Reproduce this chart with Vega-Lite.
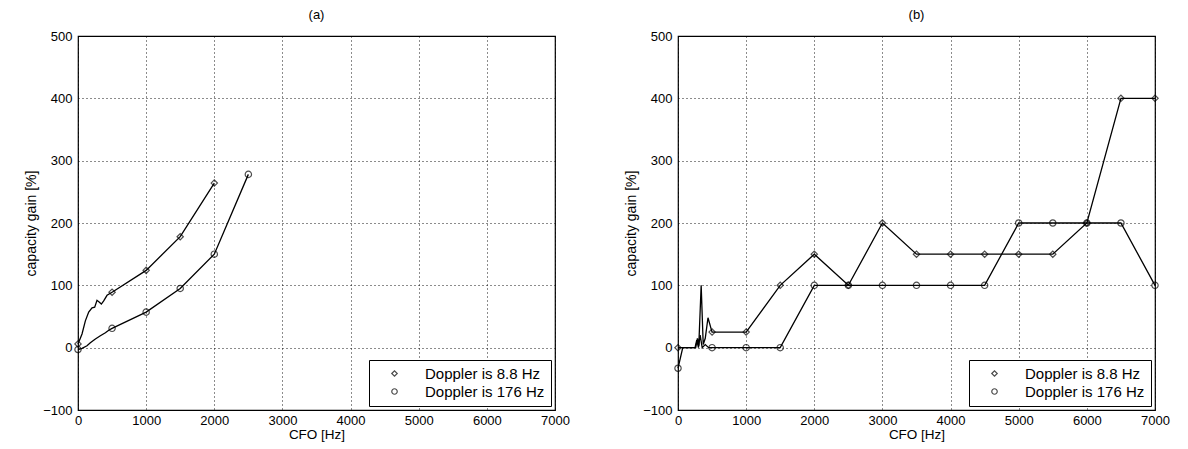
{
  "$schema": "https://vega.github.io/schema/vega-lite/v6.json",
  "background": "white",
  "padding": {"left": 24, "top": 8, "right": 5, "bottom": 5},
  "spacing": 53,
  "config": {
    "font": "Liberation Sans",
    "view": {"stroke": "black", "strokeWidth": 1.2},
    "title": {"fontSize": 13, "fontWeight": "normal", "color": "black", "offset": 8},
    "axis": {
      "labelFont": "Liberation Sans",
      "labelFontSize": 13,
      "labelColor": "black",
      "labelFlush": false,
      "titleFont": "Liberation Sans",
      "titleFontSize": 14,
      "titleFontWeight": "normal",
      "titleColor": "black",
      "grid": true,
      "gridColor": "black",
      "gridDash": [1, 3],
      "gridWidth": 1,
      "gridOpacity": 0.9,
      "domain": false,
      "ticks": false,
      "labelPadding": 6
    },
    "axisX": {"titlePadding": 0, "labelPadding": 4, "format": "d", "titleFontSize": 13.5},
    "axisY": {"titlePadding": 4},
    "legend": {
      "orient": "bottom-right",
      "offset": 4,
      "fillColor": "white",
      "strokeColor": "black",
      "padding": 6,
      "labelFontSize": 15,
      "labelColor": "black",
      "labelFont": "Liberation Sans",
      "labelLimit": 400,
      "symbolSize": 30,
      "symbolStrokeColor": "black",
      "symbolFillColor": "transparent",
      "symbolStrokeWidth": 1.2,
      "symbolOffset": 12,
      "labelOffset": 23,
      "rowPadding": 2,
      "title": null
    }
  },
  "datasets": {
    "a": [
      {"cfo": 0, "gain": 6, "series": "Doppler is 8.8 Hz", "marker": true},
      {"cfo": 59, "gain": 22, "series": "Doppler is 8.8 Hz", "marker": false},
      {"cfo": 108, "gain": 43, "series": "Doppler is 8.8 Hz", "marker": false},
      {"cfo": 157, "gain": 57, "series": "Doppler is 8.8 Hz", "marker": false},
      {"cfo": 206, "gain": 64, "series": "Doppler is 8.8 Hz", "marker": false},
      {"cfo": 245, "gain": 65, "series": "Doppler is 8.8 Hz", "marker": false},
      {"cfo": 279, "gain": 76, "series": "Doppler is 8.8 Hz", "marker": false},
      {"cfo": 314, "gain": 73, "series": "Doppler is 8.8 Hz", "marker": false},
      {"cfo": 343, "gain": 70, "series": "Doppler is 8.8 Hz", "marker": false},
      {"cfo": 377, "gain": 75, "series": "Doppler is 8.8 Hz", "marker": false},
      {"cfo": 426, "gain": 84, "series": "Doppler is 8.8 Hz", "marker": false},
      {"cfo": 500, "gain": 89, "series": "Doppler is 8.8 Hz", "marker": true},
      {"cfo": 1000, "gain": 124, "series": "Doppler is 8.8 Hz", "marker": true},
      {"cfo": 1500, "gain": 178, "series": "Doppler is 8.8 Hz", "marker": true},
      {"cfo": 2000, "gain": 264, "series": "Doppler is 8.8 Hz", "marker": true},
      {"cfo": 0, "gain": -3, "series": "Doppler is 176 Hz", "marker": true},
      {"cfo": 59, "gain": -1, "series": "Doppler is 176 Hz", "marker": false},
      {"cfo": 132, "gain": 3, "series": "Doppler is 176 Hz", "marker": false},
      {"cfo": 181, "gain": 8, "series": "Doppler is 176 Hz", "marker": false},
      {"cfo": 255, "gain": 14, "series": "Doppler is 176 Hz", "marker": false},
      {"cfo": 328, "gain": 19, "series": "Doppler is 176 Hz", "marker": false},
      {"cfo": 402, "gain": 24, "series": "Doppler is 176 Hz", "marker": false},
      {"cfo": 451, "gain": 28, "series": "Doppler is 176 Hz", "marker": false},
      {"cfo": 500, "gain": 31, "series": "Doppler is 176 Hz", "marker": true},
      {"cfo": 1000, "gain": 57, "series": "Doppler is 176 Hz", "marker": true},
      {"cfo": 1500, "gain": 95, "series": "Doppler is 176 Hz", "marker": true},
      {"cfo": 2000, "gain": 150, "series": "Doppler is 176 Hz", "marker": true},
      {"cfo": 2500, "gain": 278, "series": "Doppler is 176 Hz", "marker": true}
    ],
    "b": [
      {"cfo": 0, "gain": 0, "series": "Doppler is 8.8 Hz", "marker": true},
      {"cfo": 100, "gain": 0, "series": "Doppler is 8.8 Hz", "marker": false},
      {"cfo": 200, "gain": 0, "series": "Doppler is 8.8 Hz", "marker": false},
      {"cfo": 260, "gain": 0, "series": "Doppler is 8.8 Hz", "marker": false},
      {"cfo": 285, "gain": 15, "series": "Doppler is 8.8 Hz", "marker": false},
      {"cfo": 305, "gain": 3, "series": "Doppler is 8.8 Hz", "marker": false},
      {"cfo": 340, "gain": 100, "series": "Doppler is 8.8 Hz", "marker": false},
      {"cfo": 370, "gain": 5, "series": "Doppler is 8.8 Hz", "marker": false},
      {"cfo": 400, "gain": 15, "series": "Doppler is 8.8 Hz", "marker": false},
      {"cfo": 440, "gain": 48, "series": "Doppler is 8.8 Hz", "marker": false},
      {"cfo": 500, "gain": 25, "series": "Doppler is 8.8 Hz", "marker": true},
      {"cfo": 1000, "gain": 25, "series": "Doppler is 8.8 Hz", "marker": true},
      {"cfo": 1500, "gain": 100, "series": "Doppler is 8.8 Hz", "marker": true},
      {"cfo": 2000, "gain": 150, "series": "Doppler is 8.8 Hz", "marker": true},
      {"cfo": 2500, "gain": 100, "series": "Doppler is 8.8 Hz", "marker": true},
      {"cfo": 3000, "gain": 200, "series": "Doppler is 8.8 Hz", "marker": true},
      {"cfo": 3500, "gain": 150, "series": "Doppler is 8.8 Hz", "marker": true},
      {"cfo": 4000, "gain": 150, "series": "Doppler is 8.8 Hz", "marker": true},
      {"cfo": 4500, "gain": 150, "series": "Doppler is 8.8 Hz", "marker": true},
      {"cfo": 5000, "gain": 150, "series": "Doppler is 8.8 Hz", "marker": true},
      {"cfo": 5500, "gain": 150, "series": "Doppler is 8.8 Hz", "marker": true},
      {"cfo": 6000, "gain": 200, "series": "Doppler is 8.8 Hz", "marker": true},
      {"cfo": 6500, "gain": 400, "series": "Doppler is 8.8 Hz", "marker": true},
      {"cfo": 7000, "gain": 400, "series": "Doppler is 8.8 Hz", "marker": true},
      {"cfo": 0, "gain": -33, "series": "Doppler is 176 Hz", "marker": true},
      {"cfo": 70, "gain": 0, "series": "Doppler is 176 Hz", "marker": false},
      {"cfo": 250, "gain": 0, "series": "Doppler is 176 Hz", "marker": false},
      {"cfo": 275, "gain": 12, "series": "Doppler is 176 Hz", "marker": false},
      {"cfo": 300, "gain": 0, "series": "Doppler is 176 Hz", "marker": false},
      {"cfo": 325, "gain": 20, "series": "Doppler is 176 Hz", "marker": false},
      {"cfo": 355, "gain": 0, "series": "Doppler is 176 Hz", "marker": false},
      {"cfo": 400, "gain": 5, "series": "Doppler is 176 Hz", "marker": false},
      {"cfo": 450, "gain": 0, "series": "Doppler is 176 Hz", "marker": false},
      {"cfo": 500, "gain": 0, "series": "Doppler is 176 Hz", "marker": true},
      {"cfo": 1000, "gain": 0, "series": "Doppler is 176 Hz", "marker": true},
      {"cfo": 1500, "gain": 0, "series": "Doppler is 176 Hz", "marker": true},
      {"cfo": 2000, "gain": 100, "series": "Doppler is 176 Hz", "marker": true},
      {"cfo": 2500, "gain": 100, "series": "Doppler is 176 Hz", "marker": true},
      {"cfo": 3000, "gain": 100, "series": "Doppler is 176 Hz", "marker": true},
      {"cfo": 3500, "gain": 100, "series": "Doppler is 176 Hz", "marker": true},
      {"cfo": 4000, "gain": 100, "series": "Doppler is 176 Hz", "marker": true},
      {"cfo": 4500, "gain": 100, "series": "Doppler is 176 Hz", "marker": true},
      {"cfo": 5000, "gain": 200, "series": "Doppler is 176 Hz", "marker": true},
      {"cfo": 5500, "gain": 200, "series": "Doppler is 176 Hz", "marker": true},
      {"cfo": 6000, "gain": 200, "series": "Doppler is 176 Hz", "marker": true},
      {"cfo": 6500, "gain": 200, "series": "Doppler is 176 Hz", "marker": true},
      {"cfo": 7000, "gain": 100, "series": "Doppler is 176 Hz", "marker": true}
    ]
  },
  "hconcat": [
    {
      "title": "(a)",
      "width": 477,
      "height": 374,
      "data": {"name": "a"},
      "layer": [
        {
          "mark": {"type": "line", "color": "black", "strokeWidth": 1.3},
          "encoding": {
            "x": {"field": "cfo", "type": "quantitative", "title": "CFO [Hz]", "scale": {"domain": [0, 7000], "nice": false}, "axis": {"values": [0, 1000, 2000, 3000, 4000, 5000, 6000, 7000]}},
            "y": {"field": "gain", "type": "quantitative", "title": "capacity gain [%]", "scale": {"domain": [-100, 500], "nice": false}, "axis": {"values": [-100, 0, 100, 200, 300, 400, 500]}},
            "detail": {"field": "series"}
          }
        },
        {
          "transform": [{"filter": "datum.marker"}],
          "mark": {"type": "point", "filled": false, "color": "black", "strokeWidth": 1.2, "size": 40},
          "encoding": {
            "x": {"field": "cfo", "type": "quantitative"},
            "y": {"field": "gain", "type": "quantitative"},
            "shape": {"field": "series", "type": "nominal", "scale": {"domain": ["Doppler is 8.8 Hz", "Doppler is 176 Hz"], "range": ["diamond", "circle"]}, "legend": {"labelExpr": "datum.label + '\u00a0\u00a0\u00a0\u00a0\u00a0\u00a0\u00a0\u00a0'"}}
          }
        }
      ]
    },
    {
      "title": "(b)",
      "width": 477,
      "height": 374,
      "data": {"name": "b"},
      "layer": [
        {
          "mark": {"type": "line", "color": "black", "strokeWidth": 1.3},
          "encoding": {
            "x": {"field": "cfo", "type": "quantitative", "title": "CFO [Hz]", "scale": {"domain": [0, 7000], "nice": false}, "axis": {"values": [0, 1000, 2000, 3000, 4000, 5000, 6000, 7000]}},
            "y": {"field": "gain", "type": "quantitative", "title": "capacity gain [%]", "scale": {"domain": [-100, 500], "nice": false}, "axis": {"values": [-100, 0, 100, 200, 300, 400, 500]}},
            "detail": {"field": "series"}
          }
        },
        {
          "transform": [{"filter": "datum.marker"}],
          "mark": {"type": "point", "filled": false, "color": "black", "strokeWidth": 1.2, "size": 40},
          "encoding": {
            "x": {"field": "cfo", "type": "quantitative"},
            "y": {"field": "gain", "type": "quantitative"},
            "shape": {"field": "series", "type": "nominal", "scale": {"domain": ["Doppler is 8.8 Hz", "Doppler is 176 Hz"], "range": ["diamond", "circle"]}, "legend": {"labelExpr": "datum.label + '\u00a0\u00a0\u00a0\u00a0\u00a0\u00a0\u00a0\u00a0'"}}
          }
        }
      ]
    }
  ],
  "resolve": {"legend": {"shape": "independent"}, "scale": {"shape": "independent"}}
}
